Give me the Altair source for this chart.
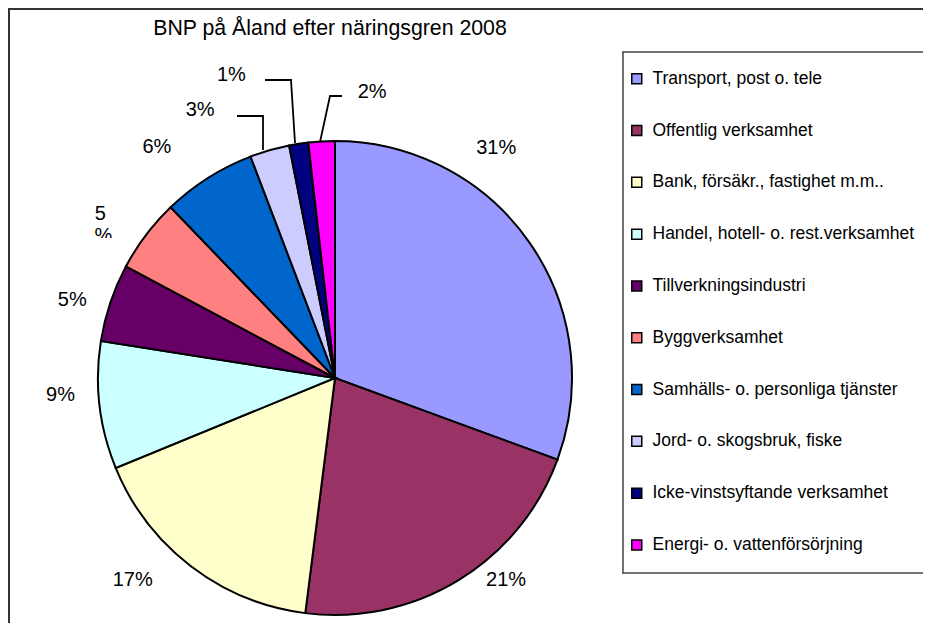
import altair as alt
import pandas as pd
import math

# ---- data ----
categories = [
    "Transport, post o. tele",
    "Offentlig verksamhet",
    "Bank, försäkr., fastighet m.m..",
    "Handel, hotell- o. rest.verksamhet",
    "Tillverkningsindustri",
    "Byggverksamhet",
    "Samhälls- o. personliga tjänster",
    "Jord- o. skogsbruk, fiske",
    "Icke-vinstsyftande verksamhet",
    "Energi- o. vattenförsörjning",
]
values = [30.6, 21.4, 16.8, 8.7, 5.3, 5.0, 6.4, 2.7, 1.3, 1.8]
pct_labels = ["31%", "21%", "17%", "9%", "5%", "5", "6%", "3%", "1%", "2%"]
colors = ["#9999FF", "#993366", "#FFFFCC", "#CCFFFF", "#660066",
          "#FF8080", "#0066CC", "#CCCCFF", "#000080", "#FF00FF"]

# label placement (angle in degrees clockwise from 12 o'clock, distance from centre)
label_angle = [35.0, 139.8, 225.0, 266.5, 286.5, 304.9, 322.4, 333.3, 341.1, 7.4]
label_dist = [281, 265, 286, 275, 274, 286, 292, 300, 320, 288]

# leader lines (polylines, pixel positions inside the chart)
leader_id = ["3%", "3%", "3%", "1%", "1%", "1%", "2%", "2%", "2%"]
leader_x = [229, 255, 255, 257, 283, 287, 334, 322, 312]
leader_y = [108, 108, 142, 72, 72, 135, 88, 88, 134]

title_text = "BNP på Åland efter näringsgren 2008"

W, H = 915, 615
CX, CY, R = 327, 370, 237
FONT = "Liberation Sans"

df = pd.DataFrame({
    "idx": list(range(len(categories))),
    "kategori": categories,
    "andel": values,
    "etikett": pct_labels,
    "vinkel": [math.radians(a) for a in label_angle],
    "avstand": label_dist,
})

leaders = pd.DataFrame({
    "id": leader_id,
    "ord": list(range(len(leader_id))),
    "x": leader_x,
    "y": leader_y,
})
one = pd.DataFrame({"a": [0]})


def bar(x1, y1, x2, y2, color):
    # thin filled band used for the outer frame and the legend box edges
    return alt.Chart(one).mark_rect(fill=color, strokeWidth=0).encode(
        x=alt.value(x1), y=alt.value(y1), x2=alt.value(x2), y2=alt.value(y2)
    )


frame = bar(0, 0, W, 2, "#333333") + bar(0, 0, 2, H, "#333333")
legend_box = (bar(614, 43.25, W, 44.75, "#444444")
              + bar(614.25, 44, 615.75, 565, "#444444")
              + bar(614, 564.25, W, 565.75, "#444444"))

title = alt.Chart(one).mark_text(
    text=title_text, font=FONT, fontSize=21.3, color="black",
    align="center", baseline="alphabetic",
).encode(x=alt.value(322), y=alt.value(27))

pie = alt.Chart(df).mark_arc(radius=R, stroke="black", strokeWidth=2).encode(
    theta=alt.Theta("andel:Q", stack=True),
    order=alt.Order("idx:Q"),
    color=alt.Color(
        "kategori:N",
        scale=alt.Scale(domain=categories, range=colors),
        legend=alt.Legend(
            title=None, orient="none", legendX=620, legendY=62,
            symbolType="square", symbolSize=100, symbolStrokeColor="black",
            symbolStrokeWidth=1.5, symbolOpacity=1,
            labelFont=FONT, labelFontSize=17.5, labelColor="black",
            labelOffset=7, labelLimit=500, rowPadding=32.8, padding=0,
        ),
    ),
    x=alt.value(CX), y=alt.value(CY),
)

labels = alt.Chart(df).mark_text(
    font=FONT, fontSize=20, color="black", align="center", baseline="middle"
).encode(
    theta=alt.Theta("vinkel:Q", scale=None, stack=False),
    radius=alt.Radius("avstand:Q", scale=None),
    text="etikett:N",
    x=alt.value(CX), y=alt.value(CY),
)

# the clipped second line "%" of the Bygg label
pct_tail = alt.Chart(df).transform_filter(
    alt.datum.etikett == "5"
).mark_text(
    font=FONT, fontSize=20, color="black", align="center", baseline="middle", dy=22, dx=3
).encode(
    theta=alt.Theta("vinkel:Q", scale=None, stack=False),
    radius=alt.Radius("avstand:Q", scale=None),
    text=alt.value("%"),
    x=alt.value(CX), y=alt.value(CY),
)

mask = alt.Chart(one).mark_rect(fill="white").encode(
    x=alt.value(80), x2=alt.value(110), y=alt.value(230), y2=alt.value(245)
)

lines = alt.Chart(leaders).mark_line(color="black", strokeWidth=1.8).encode(
    x=alt.X("x:Q", scale=None),
    y=alt.Y("y:Q", scale=None),
    detail="id:N",
    order="ord:Q",
)

chart = alt.layer(frame, legend_box, title, pie, labels, pct_tail, mask, lines).properties(
    width=W, height=H,
    autosize=alt.AutoSizeParams(type="none"),
    padding=0,
).configure_view(strokeWidth=0, strokeOpacity=0)

chart.save("out.html", embed_options={"renderer": "svg", "actions": False})
